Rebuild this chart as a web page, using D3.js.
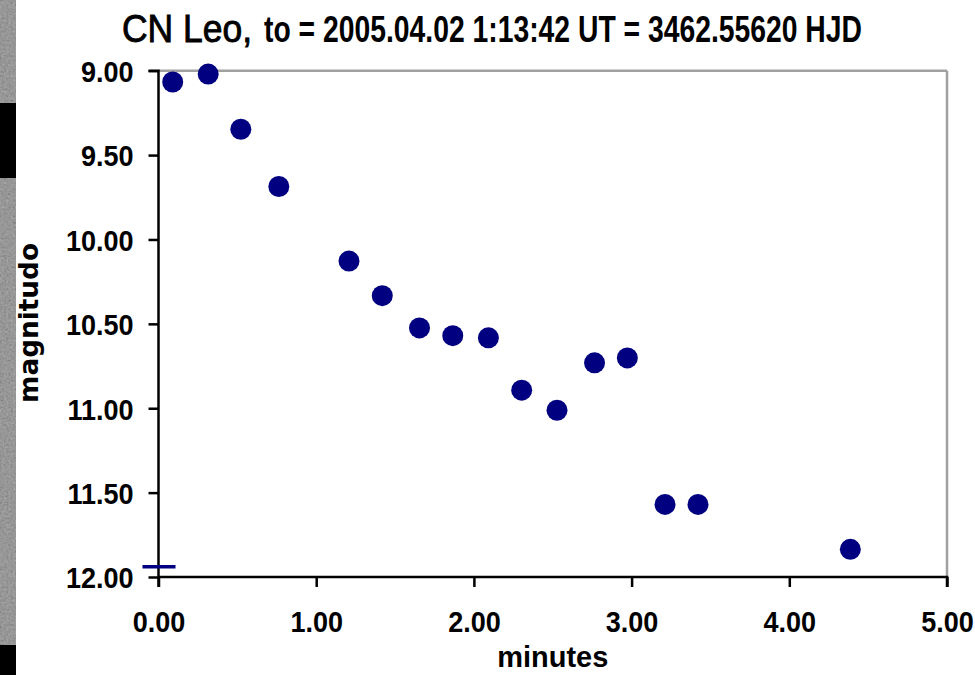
<!DOCTYPE html>
<html><head><meta charset="utf-8">
<script src="https://cdn.jsdelivr.net/npm/d3@7"></script>
<style>html,body{margin:0;padding:0;background:#fff;}svg{display:block;}</style>
</head><body>
<svg id="chart" width="975" height="675"></svg>
<script>
const minutes = [0.090, 0.315, 0.522, 0.763, 1.208, 1.419, 1.655, 1.866, 2.092, 2.303, 2.527, 2.765, 2.973, 3.212, 3.421, 4.387];
const magnitudes = [9.067, 9.020, 9.347, 9.686, 10.128, 10.333, 10.524, 10.570, 10.583, 10.893, 11.012, 10.731, 10.702, 11.570, 11.570, 11.836];
const dashMarker = [{x: 0, y: 11.94}];
const xTicks = [0, 1, 2, 3, 4, 5];
const yTicks = [9.0, 9.5, 10.0, 10.5, 11.0, 11.5, 12.0];
const titleMain = "CN Leo,";
const titleSub = "to = 2005.04.02 1:13:42 UT = 3462.55620 HJD";
const xLabel = "minutes";
const yLabel = "magnitudo";

const svg = d3.select("#chart");
const L = 158.5, R = 947, T = 70.7, B = 577;
const x = d3.scaleLinear().domain([0, 5]).range([L, R]);
const y = d3.scaleLinear().domain([9, 12]).range([T, B]);

// left decorative strip
const defs = svg.append("defs");
const f = defs.append("filter").attr("id","noise").attr("x",0).attr("y",0).attr("width","100%").attr("height","100%");
f.append("feTurbulence").attr("type","fractalNoise").attr("baseFrequency",0.45).attr("numOctaves",2).attr("seed",3).attr("result","n");
f.append("feColorMatrix").attr("type","matrix").attr("in","n")
 .attr("values","0.33 0.33 0.33 0 0  0.33 0.33 0.33 0 0  0.33 0.33 0.33 0 0  0 0 0 0 1");
svg.append("rect").attr("x",0).attr("y",0).attr("width",16).attr("height",675).attr("fill","#737373");
svg.append("rect").attr("x",0).attr("y",0).attr("width",16).attr("height",675).attr("filter","url(#noise)").attr("opacity",0.5);
svg.append("rect").attr("x",0).attr("y",103).attr("width",16).attr("height",75).attr("fill","#000");
svg.append("rect").attr("x",0).attr("y",645).attr("width",16).attr("height",30).attr("fill","#000");

// frame (top & right gray)
svg.append("line").attr("x1",L).attr("x2",R).attr("y1",T).attr("y2",T).attr("stroke","#a0a0a0").attr("stroke-width",2.5);
svg.append("line").attr("x1",R).attr("x2",R).attr("y1",T).attr("y2",B).attr("stroke","#a0a0a0").attr("stroke-width",2.5);

const fontBold = "'Liberation Sans', Arial, sans-serif";

// axes
const yAxis = svg.append("g").attr("transform",`translate(${L},0)`)
  .call(d3.axisLeft(y).tickValues(yTicks).tickFormat(d3.format(".2f")).tickSize(10).tickPadding(15));
const xAxis = svg.append("g").attr("transform",`translate(0,${B})`)
  .call(d3.axisBottom(x).tickValues(xTicks).tickFormat(d3.format(".2f")).tickSize(10).tickPadding(24));
[yAxis, xAxis].forEach(g=>{
  g.select(".domain").attr("stroke","#000").attr("stroke-width",2.5);
  g.selectAll(".tick line").attr("stroke","#000").attr("stroke-width",2.5);
  g.selectAll(".tick text").attr("fill","#000").attr("font-family",fontBold).attr("font-weight","bold").attr("font-size",30);
});
yAxis.select(".domain").attr("d",`M-10,${T}H0V${B+10}`);
xAxis.select(".domain").attr("d",`M${L},0H${R}V10`);
yAxis.selectAll(".tick text").attr("dy","0.36em");
xAxis.selectAll(".tick text").attr("dy","0.71em");
function squeeze(sel, k){ sel.each(function(){ const w=this.getComputedTextLength(); d3.select(this).attr("textLength",w*k).attr("lengthAdjust","spacingAndGlyphs"); }); }
squeeze(yAxis.selectAll(".tick text"), 0.9);
squeeze(xAxis.selectAll(".tick text"), 0.9);

// dash marker
svg.selectAll(".dash").data(dashMarker).join("line").attr("class","dash")
  .attr("x1",d=>x(d.x)-16).attr("x2",d=>x(d.x)+17).attr("y1",d=>y(d.y)).attr("y2",d=>y(d.y))
  .attr("stroke","#000080").attr("stroke-width",3.5);

// points
svg.selectAll(".pt").data(minutes.map((m,i)=>({x:m,y:magnitudes[i]}))).join("circle").attr("class","pt")
  .attr("cx",d=>x(d.x)).attr("cy",d=>y(d.y)).attr("r",10.5).attr("fill","#000080");

// titles
svg.append("text").attr("x",122).attr("y",41.7).attr("font-family",fontBold).attr("font-size",39.5)
  .attr("fill","#000").attr("stroke","#000").attr("stroke-width",0.9)
  .attr("textLength",130).attr("lengthAdjust","spacingAndGlyphs").text(titleMain);
svg.append("text").attr("x",264).attr("y",41.7).attr("font-family",fontBold).attr("font-weight","bold").attr("font-size",36)
  .attr("fill","#000").attr("textLength",598).attr("lengthAdjust","spacingAndGlyphs").text(titleSub);

svg.append("text").attr("x",(L+R)/2).attr("y",667).attr("text-anchor","middle").attr("font-family",fontBold)
  .attr("font-weight","bold").attr("font-size",30).attr("fill","#000").attr("textLength",111).attr("lengthAdjust","spacingAndGlyphs").text(xLabel);
svg.append("text").attr("transform","translate(37.5,323) rotate(-90)").attr("text-anchor","middle").attr("font-family","'DejaVu Sans', Verdana, sans-serif")
  .attr("font-weight","bold").attr("font-size",26).attr("fill","#000").attr("textLength",160).attr("lengthAdjust","spacingAndGlyphs").text(yLabel);
</script>
</body></html>
